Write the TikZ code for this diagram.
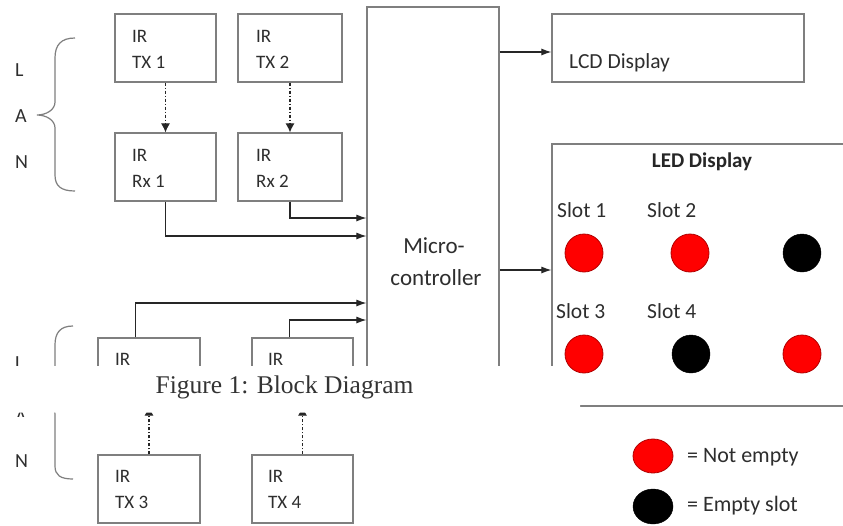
\documentclass[tikz,border=0pt]{standalone}
\usepackage{fontspec}
\setmainfont{Carlito}
\newfontfamily\capfont{Liberation Serif}
\usetikzlibrary{arrows.meta,shapes.geometric}
\definecolor{boxgray}{HTML}{7F7F7F}
\definecolor{txtgray}{HTML}{2E2E2E}
\definecolor{ledred}{HTML}{FF0000}
\definecolor{ledredb}{HTML}{B00000}
\definecolor{arrowcol}{HTML}{262626}
\begin{document}
\begin{tikzpicture}[x=1pt,y=-1pt,
  box/.style={draw=boxgray, line width=1.2pt, inner sep=0pt, minimum height=68pt},
  lbl/.style={anchor=base west, inner sep=0pt, text=txtgray, font=\fontsize{19}{22}\selectfont},
  mid/.style={anchor=base, inner sep=0pt, text=txtgray, font=\fontsize{22}{26}\selectfont},
  big/.style={anchor=base west, inner sep=0pt, text=txtgray, font=\fontsize{21.5}{26}\selectfont},
  sig/.style={draw=arrowcol, line width=1.1pt, -{Latex[length=10pt,width=7pt]}},
  ir/.style={draw=boxgray, line width=1.1pt, dash pattern=on 3pt off 2pt on 1pt off 2pt, -{Latex[length=9pt,width=9pt]}, arrowcol},
  brace/.style={draw=boxgray, line width=1.2pt},
  redled/.style={fill=ledred, draw=ledredb, line width=0.8pt},
  blackled/.style={fill=black, draw=black},
]
\useasboundingbox (0,0) rectangle (843,525);
\fill[white] (0,0) rectangle (843,525);

% upper LAN
\node[box, minimum width=101pt] (tx1) at (165.5,48) {};
\node[box, minimum width=104pt] (tx2) at (290,48) {};
\node[box, minimum width=101pt] (rx1) at (165.5,167) {};
\node[box, minimum width=104pt] (rx2) at (290,167) {};
\node[lbl] (tx1a) at (132,42) {IR};
\node[lbl] (tx1b) at (132,68) {TX 1};
\node[lbl] (tx2a) at (256,42) {IR};
\node[lbl] (tx2b) at (256,68) {TX 2};
\node[lbl] (rx1a) at (132,161) {IR};
\node[lbl] (rx1b) at (132,187) {Rx 1};
\node[lbl] (rx2a) at (256,161) {IR};
\node[lbl] (rx2b) at (256,187) {Rx 2};

% lower LAN
\node[box, minimum width=102pt] (rx3) at (149,372) {};
\node[box, minimum width=101pt] (rx4) at (302.5,372) {};
\node[box, minimum width=102pt] (tx3) at (149,489) {};
\node[box, minimum width=101pt] (tx4) at (302.5,489) {};
\node[lbl] (rx3a) at (115,365) {IR};
\node[lbl] (rx4a) at (268,365) {IR};
\node[lbl] (tx3a) at (115,482) {IR};
\node[lbl] (tx3b) at (115,508) {TX 3};
\node[lbl] (tx4a) at (268,482) {IR};
\node[lbl] (tx4b) at (268,508) {TX 4};

% microcontroller
\node[box, minimum width=132pt, minimum height=390pt] (mc) at (433,202) {};
\node[mid, font=\fontsize{23}{27}\selectfont] (mc1) at (434,253) {Micro-};
\node[mid, font=\fontsize{23}{27}\selectfont] (mc2) at (436,285) {controller};

% displays
\node[box, minimum width=252pt] (lcd) at (678,48) {};
\node[big] (lcdt) at (569,68) {LCD Display};
\node[box, minimum width=304pt, minimum height=262pt] (led) at (704,275) {};
\node[anchor=base, inner sep=0pt, text=black!85, font=\bfseries\fontsize{21}{25}\selectfont] (ledt) at (702,167) {LED Display};
\node[big] (s1) at (557,217) {Slot 1};
\node[big] (s2) at (647,217) {Slot 2};
\node[big] (s3) at (556,318) {Slot 3};
\node[big] (s4) at (647,318) {Slot 4};
\node[redled, circle, minimum size=38pt, inner sep=0pt] (l1) at (584,253) {};
\node[redled, circle, minimum size=38pt, inner sep=0pt] (l2) at (690,253) {};
\node[blackled, circle, minimum size=38pt, inner sep=0pt] (l3) at (802,253) {};
\node[redled, circle, minimum size=38pt, inner sep=0pt] (l4) at (584,354) {};
\node[blackled, circle, minimum size=38pt, inner sep=0pt] (l5) at (691,354) {};
\node[redled, circle, minimum size=38pt, inner sep=0pt] (l6) at (802,354) {};

% legend
\node[redled, ellipse, minimum width=40pt, minimum height=34pt, inner sep=0pt] (kr) at (653,456) {};
\node[blackled, ellipse, minimum width=40pt, minimum height=35pt, inner sep=0pt] (kb) at (653,506.5) {};
\node[big, font=\fontsize{22}{26}\selectfont] (krt) at (687,462) {= Not empty};
\node[big, font=\fontsize{22}{26}\selectfont] (kbt) at (687,511) {= Empty slot};

% connectors
\draw[ir] (tx1.south) -- (rx1.north);
\draw[ir] (tx2.south) -- (rx2.north);
\draw[ir] (tx3.north) -- (rx3.south);
\draw[ir] (tx4.north) -- (rx4.south);
\draw[sig] (rx2.south) |- (mc.west |- 0,218);
\draw[sig] (rx1.south) |- (mc.west |- 0,236);
\draw[sig] ([xshift=38pt]rx3.north west) |- (mc.west |- 0,303);
\draw[sig] ([xshift=38pt]rx4.north west) |- (mc.west |- 0,320);
\draw[sig] (mc.east |- 0,52) -- (lcd.west |- 0,52);
\draw[sig] (mc.east |- 0,270) -- (led.west |- 0,270);

% braces and L A N
\draw[brace] (75,38) .. controls (61,38) and (55,45) .. (55,58) -- (55,102)
  .. controls (55,110) and (46,115) .. (37,115)
  .. controls (46,115) and (55,120) .. (55,128) -- (55,175)
  .. controls (55,186) and (61,191) .. (75,191);
\draw[brace] (73,326) .. controls (60,326) and (55,333) .. (55,345) -- (55,390)
  .. controls (55,397) and (46,402) .. (37,402)
  .. controls (46,402) and (55,407) .. (55,414) -- (55,466)
  .. controls (55,475) and (60,479) .. (73,479);
\node[lbl, font=\fontsize{20}{24}\selectfont] (la) at (15,76) {L};
\node[lbl, font=\fontsize{20}{24}\selectfont] (lb) at (15,122) {A};
\node[lbl, font=\fontsize{20}{24}\selectfont] (lc) at (15,168) {N};
\node[lbl, font=\fontsize{20}{24}\selectfont] (ld) at (15,369) {L};
\node[lbl, font=\fontsize{20}{24}\selectfont] (le) at (15,423) {A};
\node[lbl, font=\fontsize{20}{24}\selectfont] (lf) at (15,467) {N};

% caption band over the diagram
\fill[white] (0,366) -- (558,366) -- (558,400) -- (580,400) -- (580,412.5) -- (0,412.5) -- cycle;
\fill[white] (0,417) rectangle (40,430);
\node[anchor=base, inner sep=0pt, text=black!80, font=\capfont\fontsize{25.5}{30}\selectfont] (cap) at (284.5,393) {Figure 1: Block Diagram};
\end{tikzpicture}
\end{document}
